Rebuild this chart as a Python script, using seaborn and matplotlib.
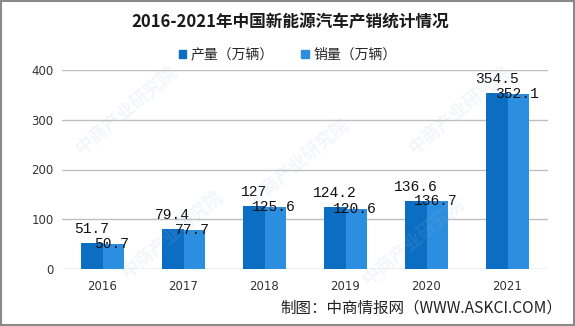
import matplotlib
matplotlib.use("Agg")
import matplotlib.pyplot as plt
import matplotlib.patches as mpatches
import seaborn as sns
import pandas as pd

years = ["2016", "2017", "2018", "2019", "2020", "2021"]
production = [51.7, 79.4, 127, 124.2, 136.6, 354.5]
sales = [50.7, 77.7, 125.6, 120.6, 136.7, 352.1]
series_names = ["产量（万辆）", "销量（万辆）"]
colors = ["#0B6EC3", "#2B8EDF"]

sns.set_theme(style="white")
plt.rcParams["font.family"] = ["Noto Sans CJK SC", "DejaVu Sans"]

df = pd.DataFrame({
    "year": years * 2,
    "value": production + sales,
    "series": [series_names[0]] * len(years) + [series_names[1]] * len(years),
})

fig = plt.figure(figsize=(5.75, 3.26), dpi=100)
fig.patch.set_facecolor("white")
ax = fig.add_axes([62 / 575, 57 / 326, 486 / 575, 199 / 326])

sns.barplot(data=df, x="year", y="value", hue="series", palette=colors,
            width=0.53, gap=0, ax=ax, legend=False, saturation=1,
            linewidth=0, edgecolor="none")

ax.set_ylim(0, 400)
ax.set_yticks([0, 100, 200, 300, 400])
ax.set_xlim(-0.5, len(years) - 0.5)
ax.grid(axis="y", color="#BFBFBF", linewidth=1)
ax.set_axisbelow(True)
for s in ax.spines.values():
    s.set_visible(False)
ax.set_xlabel("")
ax.set_ylabel("")
ax.tick_params(axis="both", length=0, labelsize=8.5, colors="#333333")
ax.tick_params(axis="x", pad=8)
ax.tick_params(axis="y", pad=6)
for lab in ax.get_xticklabels() + ax.get_yticklabels():
    lab.set_family("DejaVu Sans")

# value labels: production above bar, sales straddling the bar top
mono = "Liberation Mono"
for cont, vals, dy, va, dx in zip(ax.containers, [production, sales],
                                   [7, 0], ["bottom", "center"], [0, -1.5]):
    for bar, v in zip(cont, vals):
        txt = f"{v:g}"
        ax.annotate(txt, (bar.get_x() + bar.get_width() / 2, v),
                    xytext=(dx, dy), textcoords="offset pixels",
                    ha="center", va=va, fontsize=10.5, family=mono,
                    color="#111111", zorder=5)

# title, legend, source
fig.text(0.505, 1 - 22 / 326, "2016-2021年中国新能源汽车产销统计情况",
         ha="center", va="center", fontsize=12, fontweight="bold", color="#1a1a1a")
handles = [mpatches.Patch(color=c, label=n) for c, n in zip(colors, series_names)]
fig.legend(handles=handles, loc="center", bbox_to_anchor=(0.5, 1 - 55 / 326),
           ncol=2, frameon=False, fontsize=10, handlelength=0.55, handleheight=0.55,
           handletextpad=0.3, columnspacing=2.0)
fig.text(562 / 575, 1 - 308 / 326, "制图：中商情报网（WWW.ASKCI.COM）",
         ha="right", va="center", fontsize=11.2, color="#222222")

# faint diagonal watermark
for wx, wy in [(0.22, 0.66), (0.52, 0.50), (0.80, 0.66), (0.30, 0.28), (0.72, 0.26)]:
    fig.text(wx, wy, "中商产业研究院", rotation=40, ha="center", va="center",
             fontsize=13, color="#9dbfe0", alpha=0.13, fontweight="bold", zorder=0)

# outer frame
fig.add_artist(mpatches.Rectangle((0.001, 0.002), 0.997, 0.995, transform=fig.transFigure,
                                  fill=False, edgecolor="#8a8a8a", linewidth=1.5))

fig.savefig("out.png", dpi=100, facecolor="white")
